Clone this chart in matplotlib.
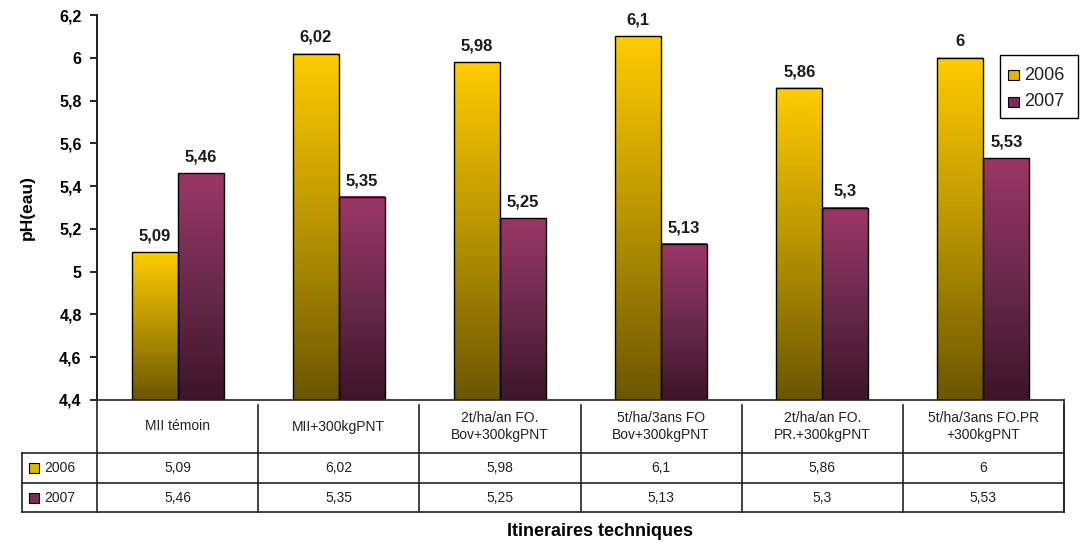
import numpy as np
import matplotlib.pyplot as plt
from matplotlib.colors import LinearSegmentedColormap
from matplotlib.lines import Line2D
from matplotlib.patches import Rectangle
from matplotlib.transforms import blended_transform_factory

plt.rcParams['font.family'] = ['Liberation Sans', 'DejaVu Sans']

categories = ["MII témoin", "MII+300kgPNT", "2t/ha/an FO.\nBov+300kgPNT",
              "5t/ha/3ans FO\nBov+300kgPNT", "2t/ha/an FO.\nPR.+300kgPNT",
              "5t/ha/3ans FO.PR\n+300kgPNT"]
series = ["2006", "2007"]
ph_2006 = [5.09, 6.02, 5.98, 6.1, 5.86, 6.0]
ph_2007 = [5.46, 5.35, 5.25, 5.13, 5.3, 5.53]
yticks = [4.4, 4.6, 4.8, 5.0, 5.2, 5.4, 5.6, 5.8, 6.0, 6.2]

def fr(v):
    s = ('%.2f' % v).rstrip('0').rstrip('.')
    return s.replace('.', ',')

cmaps = [LinearSegmentedColormap.from_list('y', ['#6b5600', '#b89400', '#ffcc00']),
         LinearSegmentedColormap.from_list('m', ['#3c1528', '#6a2a4c', '#9b3666'])]
swatch = ['#e0b400', '#7a2e56']

W, H = 1085, 544
fig = plt.figure(figsize=(W / 100, H / 100), dpi=100)
ax = fig.add_axes([97 / W, (H - 400) / H, (1064 - 97) / W, 385 / H])

bw = 0.285
grad = np.linspace(0, 1, 256).reshape(-1, 1)
x = np.arange(len(categories))
for k, vals in enumerate([ph_2006, ph_2007]):
    for i, v in enumerate(vals):
        x0 = x[i] - bw + k * bw
        ax.imshow(grad, cmap=cmaps[k], origin='lower', aspect='auto',
                  extent=(x0, x0 + bw, 4.4, v), zorder=2)
        ax.add_patch(Rectangle((x0, 4.4), bw, v - 4.4, fill=False,
                               edgecolor='black', lw=1.0, zorder=3))
        ax.text(x0 + bw / 2, v + 0.04, fr(v), ha='center', va='bottom',
                fontsize=12, fontweight='bold', color='#1a1a1a')

ax.set_xlim(-0.5, len(categories) - 0.5)
ax.set_ylim(4.4, 6.2)
ax.set_yticks(yticks)
ax.set_yticklabels([fr(t) for t in yticks], fontsize=11.5, fontweight='bold')
ax.set_xticks([])
for s in ['top', 'right', 'bottom']:
    ax.spines[s].set_visible(False)
ax.spines['left'].set_linewidth(1.2)
ax.tick_params(axis='y', length=5, width=1.2, pad=6)
ax.set_ylabel('pH(eau)', fontsize=12.5, fontweight='bold')
ax.yaxis.set_label_coords(-62 / (1064 - 97), 0.5)

# data table below the axes
def fy(py):
    return (H - py) / H
tr = blended_transform_factory(ax.transData, fig.transFigure)
rows_y = [400, 453, 483, 512]
lc = '#222222'
for py in rows_y:
    x_start = 97 if py == 400 else 22
    fig.add_artist(Line2D([x_start / W, 1064 / W], [fy(py), fy(py)], color=lc, lw=1.2))
fig.add_artist(Line2D([97 / W, 97 / W], [fy(15), fy(512)], color=lc, lw=1.2))
fig.add_artist(Line2D([22 / W, 22 / W], [fy(453), fy(512)], color=lc, lw=1.2))
for b in np.arange(0.5, len(categories), 1.0):
    ax.plot([b, b], [fy(405), fy(512)], transform=tr, color=lc, lw=1.2, clip_on=False)
ax.plot([5.5, 5.5], [fy(400), fy(512)], transform=tr, color=lc, lw=1.2, clip_on=False)

for i, c in enumerate(categories):
    ax.text(x[i], fy(426.5), c, transform=tr, ha='center', va='center',
            fontsize=10, color='#222222', linespacing=1.2)
    ax.text(x[i], fy(468), fr(ph_2006[i]), transform=tr, ha='center', va='center',
            fontsize=10, color='#222222')
    ax.text(x[i], fy(497.5), fr(ph_2007[i]), transform=tr, ha='center', va='center',
            fontsize=10, color='#222222')
for k, (s, py) in enumerate(zip(series, [468, 497.5])):
    fig.add_artist(Rectangle((29 / W, fy(py + 5)), 10 / W, 10 / H,
                             transform=fig.transFigure, facecolor=swatch[k],
                             edgecolor='black', lw=0.8))
    fig.text(44 / W, fy(py), s, ha='left', va='center', fontsize=10, color='#222222')

fig.text(600 / W, fy(531), 'Itineraires techniques', ha='center', va='center',
         fontsize=13, fontweight='bold')

# legend
fig.add_artist(Rectangle((1000 / W, fy(118)), 78 / W, 63 / H,
                         transform=fig.transFigure, facecolor='white',
                         edgecolor='black', lw=1.0))
for k, (s, py) in enumerate(zip(series, [75, 102])):
    fig.add_artist(Rectangle((1008 / W, fy(py + 5)), 11 / W, 10 / H,
                             transform=fig.transFigure, facecolor=swatch[k],
                             edgecolor='black', lw=0.8))
    fig.text(1024 / W, fy(py), s, ha='left', va='center', fontsize=13, color='#222222')

fig.savefig('out.png', dpi=100)
